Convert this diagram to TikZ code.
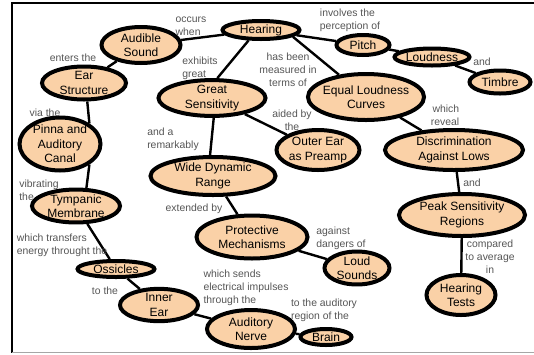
\documentclass[tikz,border=0pt]{standalone}
\usepackage{fontspec}
\setmainfont{Liberation Sans}
\usetikzlibrary{shapes.geometric}
\definecolor{peach}{RGB}{250,209,167}
\definecolor{lblgray}{RGB}{85,85,85}

\begin{document}
\begin{tikzpicture}[
    x=1pt, y=-1pt,
    concept/.style n args={2}{ellipse, draw, line width=4pt, fill=peach, minimum width=#1, minimum height=#2, inner sep=0pt, align=center, font=\fontsize{12}{14.5}\selectfont},
    lbl/.style={font=\fontsize{10.4}{13}\selectfont, text=lblgray, inner sep=0pt, align=#1},
    lbl/.default=left,
    link/.style={line width=2.4pt, black},
]
\useasboundingbox (0,0) rectangle (534,354);

% Frame
\draw[line width=2.5pt] (534,3) -- (12,3) -- (12,353);
\draw[line width=1.2pt, gray!70] (12,352.8) -- (534,352.8);

% Top part
\node[concept={77}{18}] (hear) at (261,30) {Hearing};
\node[concept={79}{36}] (aud) at (141,45) {Audible\\Sound};
\node[concept={53}{20}] (pit) at (363,45) {Pitch};
\node[concept={75}{17}] (lns) at (432,57) {Loudness};
\node[concept={61}{23}] (tim) at (500,82) {Timbre};

% Left chain
\node[concept={84}{33}] (ear) at (84,83) {Ear\\Structure};
\node[concept={81}{53}, inner ysep=-3pt] (pin) at (60,144) {Pinna and\\Auditory\\Canal};
\node[concept={88}{32}] (tym) at (76,206) {Tympanic\\Membrane};
\node[concept={77}{16}] (oss) at (116,269) {Ossicles};
\node[concept={78}{30}] (ier) at (159,305) {Inner\\Ear};
\node[concept={88}{38}] (anv) at (251,329) {Auditory\\Nerve};
\node[concept={51}{16}] (brn) at (326,337) {Brain};

% Middle
\node[concept={107}{33}] (grt) at (212,98) {Great\\Sensitivity};
\node[concept={83}{40}] (outr) at (318,150) {Outer Ear\\as Preamp};
\node[concept={125}{38}] (wide) at (213,176) {Wide Dynamic\\Range};
\node[concept={111}{43}] (pro) at (252,237) {Protective\\Mechanisms};
\node[concept={65}{31}] (loud) at (357,268) {Loud\\Sounds};

% Right column
\node[concept={109}{46}, inner xsep=-2pt] (elc) at (366,97) {Equal Loudness\\Curves};
\node[concept={138}{40}] (dis) at (454,150) {Discrimination\\Against Lows};
\node[concept={126}{42}] (peak) at (462,215) {Peak Sensitivity\\Regions};
\node[concept={69}{40}] (tst) at (461,295) {Hearing\\Tests};

% Links
\draw[link] (hear) -- (aud);
\draw[link] (hear.-140) -- (grt.75);
\draw[link] (hear) -- (pit);
\draw[link] (pit) -- (lns);
\draw[link] (lns) -- (tim);
\draw[link] (hear.-12) -- (elc);
\draw[link] (aud) -- (ear);
\draw[link] (ear.-80) -- (pin.35);
\draw[link] (pin.-35) -- (tym.60);
\draw[link] (tym) -- (oss);
\draw[link] (oss) -- (ier);
\draw[link] (ier) -- (anv);
\draw[link] (anv) -- (brn);
\draw[link] (grt.-85) -- (wide.98);
\draw[link] (grt) -- (outr);
\draw[link] (wide) -- (pro);
\draw[link] (pro) -- (loud);
\draw[link] (elc) -- (dis);
\draw[link] (dis) -- (peak);
\draw[link] (peak) -- (tst);

% Link labels
\node[lbl] (l1) at (191,26) {occurs\\when};
\node[lbl] (l2) at (200,68) {exhibits\\great};
\node[lbl] (l3) at (350,20) {involves the\\perception of};
\node[lbl] (l4) at (482,62) {and};
\node[lbl=center] (l5) at (288,70) {has been\\measured in\\terms of};
\node[lbl] (l6) at (73,58) {enters the};
\node[lbl] (l7) at (45,113) {via the};
\node[lbl] (l8) at (39,190) {vibrating\\the};
\node[lbl] (l9) at (62,245) {which transfers\\energy throught the};
\node[lbl] (l10) at (105,291) {to the};
\node[lbl] (l11) at (246,288) {which sends\\electrical impulses\\through the};
\node[lbl] (l12) at (324,310) {to the auditory\\region of the};
\node[lbl] (l13) at (173,139) {and a\\remarkably};
\node[lbl=center] (l14) at (292,120) {aided by\\the};
\node[lbl] (l15) at (194,209) {extended by};
\node[lbl] (l16) at (341,238) {against\\dangers of};
\node[lbl=right] (l17) at (445,115) {which\\reveal};
\node[lbl] (l18) at (472,183) {and};
\node[lbl=center] (l19) at (490,257) {compared\\to average\\in};
\end{tikzpicture}
\end{document}
